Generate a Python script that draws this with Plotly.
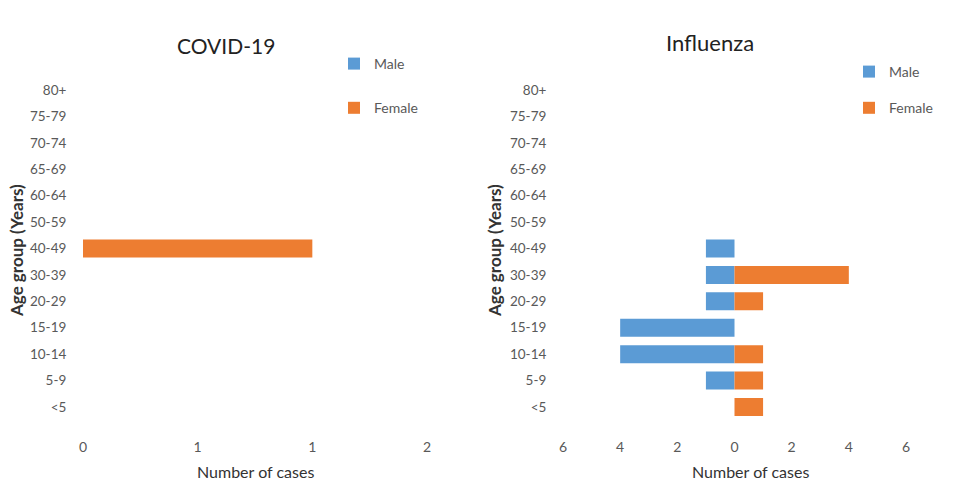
import plotly.graph_objects as go

age_groups = ["<5", "5-9", "10-14", "15-19", "20-29", "30-39", "40-49",
              "50-59", "60-64", "65-69", "70-74", "75-79", "80+"]

covid_male = [0, 0, 0, 0, 0, 0, 0, 0, 0, 0, 0, 0, 0]
covid_female = [0, 0, 0, 0, 0, 0, 1, 0, 0, 0, 0, 0, 0]

flu_male = [0, 1, 4, 4, 1, 1, 1, 0, 0, 0, 0, 0, 0]
flu_female = [1, 1, 1, 0, 1, 4, 0, 0, 0, 0, 0, 0, 0]

covid_tickvals = [0, 0.5, 1, 1.5]
covid_ticktext = ["0", "1", "1", "2"]
flu_tickvals = [-6, -4, -2, 0, 2, 4, 6]
flu_ticktext = ["6", "4", "2", "0", "2", "4", "6"]

BLUE = "#5B9BD5"
ORANGE = "#ED7D31"
FONT = "Lato"
GREY = "#595959"

W, H = 967, 494


def nz(vals, sign=1):
    return [sign * v if v else None for v in vals]


fig = go.Figure()

fig.add_trace(go.Bar(y=age_groups, x=nz(covid_male), orientation="h", name="Male",
                     marker=dict(color=BLUE, line=dict(width=0)), xaxis="x", yaxis="y",
                     legend="legend", legendgroup="m1"))
fig.add_trace(go.Bar(y=age_groups, x=nz(covid_female), orientation="h", name="Female",
                     marker=dict(color=ORANGE, line=dict(width=0)), xaxis="x", yaxis="y",
                     legend="legend", legendgroup="f1"))
fig.add_trace(go.Bar(y=age_groups, x=nz(flu_male, -1), orientation="h", name="Male",
                     marker=dict(color=BLUE, line=dict(width=0)), xaxis="x2", yaxis="y2",
                     legend="legend2", legendgroup="m2", customdata=flu_male,
                     hovertemplate="%{y}: %{customdata}<extra>Male</extra>"))
fig.add_trace(go.Bar(y=age_groups, x=nz(flu_female), orientation="h", name="Female",
                     marker=dict(color=ORANGE, line=dict(width=0)), xaxis="x2", yaxis="y2",
                     legend="legend2", legendgroup="f2"))

ydom = [1 - 420.2 / H, 1 - 76.8 / H]

common_x = dict(showgrid=False, zeroline=False, showline=False,
                ticks="outside", ticklen=14, tickcolor="rgba(0,0,0,0)",
                tickfont=dict(family=FONT, size=14, color=GREY), fixedrange=True)
common_y = dict(showgrid=False, zeroline=False, showline=False,
                ticks="outside", ticklen=13, tickcolor="rgba(0,0,0,0)",
                tickfont=dict(family=FONT, size=13.5, color=GREY),
                categoryorder="array", categoryarray=age_groups,
                range=[-0.5, 12.5], fixedrange=True, automargin=False)

fig.update_layout(
    width=W, height=H,
    margin=dict(l=0, r=0, t=0, b=0),
    paper_bgcolor="white", plot_bgcolor="white",
    barmode="relative", bargap=0.32,
    font=dict(family=FONT, color=GREY),
    xaxis=dict(domain=[83 / W, 427 / W], range=[0, 1.5], automargin=False,
               tickvals=covid_tickvals, ticktext=covid_ticktext, anchor="y", **common_x),
    yaxis=dict(domain=ydom, anchor="x", **common_y),
    xaxis2=dict(domain=[563 / W, 906 / W], range=[-6, 6], automargin=False,
                tickvals=flu_tickvals, ticktext=flu_ticktext, anchor="y2", **common_x),
    yaxis2=dict(domain=ydom, anchor="x2", **common_y),
    legend=dict(x=334 / W, y=1 - 48 / H, xanchor="left", yanchor="top",
                tracegroupgap=23, font=dict(family=FONT, size=14, color=GREY),
                bgcolor="rgba(0,0,0,0)", itemwidth=30),
    legend2=dict(x=849 / W, y=1 - 56 / H, xanchor="left", yanchor="top",
                 tracegroupgap=15, font=dict(family=FONT, size=14, color=GREY),
                 bgcolor="rgba(0,0,0,0)", itemwidth=30),
    showlegend=True,
)

annotations = [
    dict(text="COVID-19", x=226 / W, y=1 - 45 / H, font=dict(family=FONT, size=21, color="#222222")),
    dict(text="Influenza", x=710 / W, y=1 - 43 / H, font=dict(family=FONT, size=22, color="#222222")),
    dict(text="Number of cases", x=255 / W, y=1 - 471 / H, font=dict(family=FONT, size=16, color="#333333")),
    dict(text="Number of cases", x=750 / W, y=1 - 471 / H, font=dict(family=FONT, size=16, color="#333333")),
    dict(text="<b>Age group (Years)</b>", x=17 / W, y=1 - 251 / H, textangle=-90,
         font=dict(family=FONT, size=17, color="#333333")),
    dict(text="<b>Age group (Years)</b>", x=495 / W, y=1 - 251 / H, textangle=-90,
         font=dict(family=FONT, size=17, color="#333333")),
]
for a in annotations:
    a.update(xref="paper", yref="paper", showarrow=False, xanchor="center", yanchor="middle")
fig.update_layout(annotations=annotations)

fig.write_html("out.html", config={"displayModeBar": False},
               post_script="document.body.style.margin='0';")
